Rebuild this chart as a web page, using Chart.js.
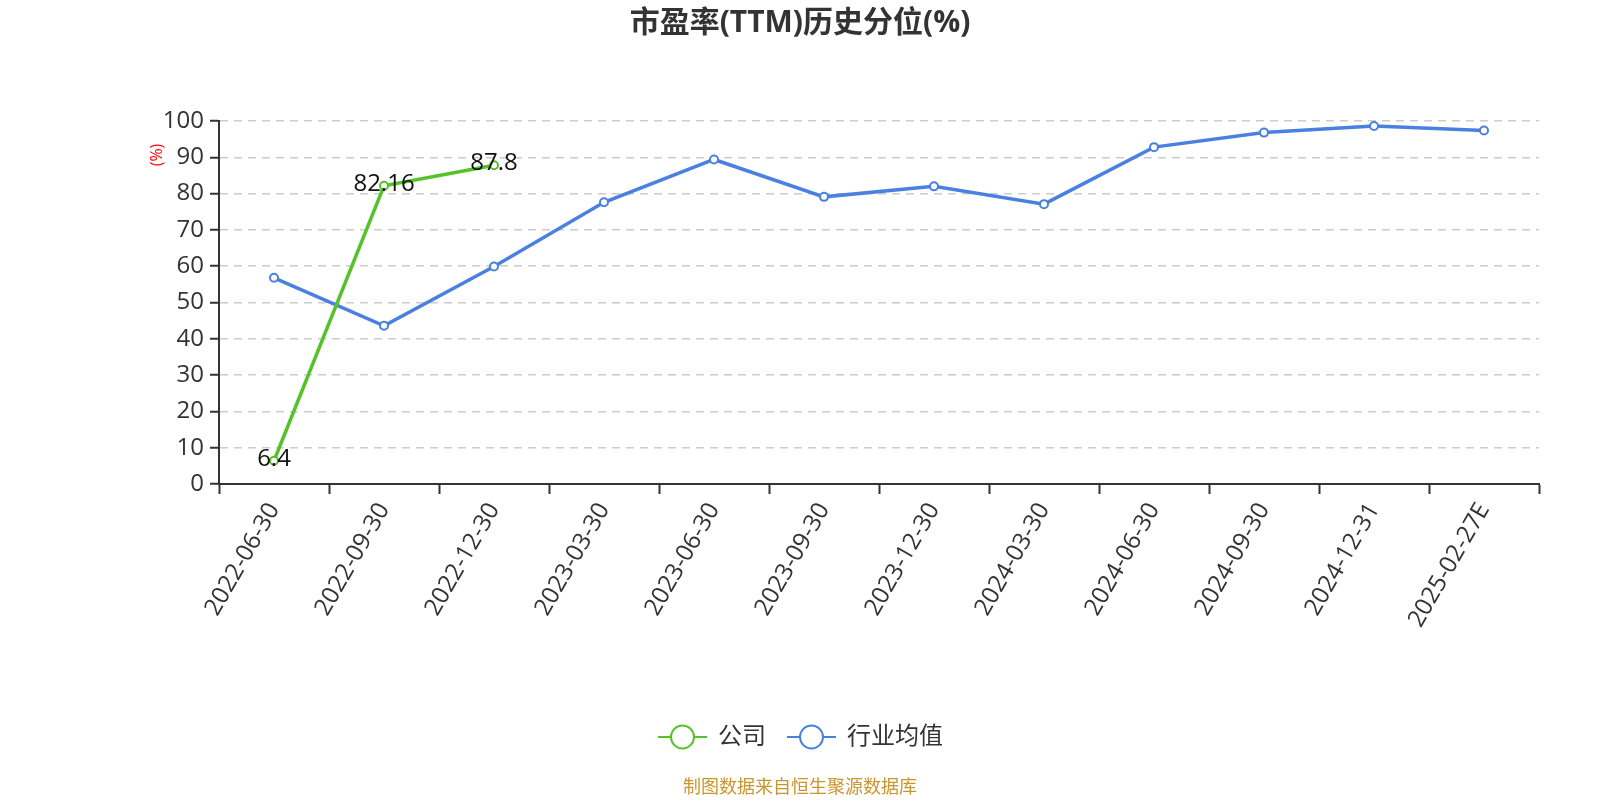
<!DOCTYPE html>
<html>
<head>
<meta charset="utf-8">
<script src="https://cdn.jsdelivr.net/npm/chart.js@4.4.1/dist/chart.umd.min.js"></script>
<style>
  html, body { margin: 0; padding: 0; background: #fff; }
  #wrap { width: 1600px; height: 800px; position: relative; }
</style>
</head>
<body>
<div id="wrap"><canvas id="peChart"></canvas></div>
<script>
// Chart data
const dates = ['2022-06-30', '2022-09-30', '2022-12-30', '2023-03-30', '2023-06-30', '2023-09-30',
  '2023-12-30', '2024-03-30', '2024-06-30', '2024-09-30', '2024-12-31', '2025-02-27E'];
const companyValues = [6.4, 82.16, 87.8, null, null, null, null, null, null, null, null, null];
const industryValues = [56.8, 43.6, 59.9, 77.6, 89.4, 79.1, 82.0, 77.1, 92.8, 96.8, 98.6, 97.4];
const seriesNames = ['公司', '行业均值'];
const yTicks = [0, 10, 20, 30, 40, 50, 60, 70, 80, 90, 100];

const GREEN = '#56c22a';
const BLUE = '#4a80e0';
const FONT = '"Open Sans", "Noto Sans CJK SC", sans-serif';

// title, y-axis unit, value labels, legend and source line
const decorations = {
  id: 'decorations',
  afterDraw(chart) {
    const ctx = chart.ctx;
    ctx.save();

    ctx.fillStyle = '#333';
    ctx.font = 'bold 30px ' + FONT;
    ctx.textAlign = 'center';
    ctx.textBaseline = 'middle';
    ctx.fillText('市盈率(TTM)历史分位(%)', 800, 23);

    // unit label on y axis
    ctx.save();
    ctx.translate(157, 155);
    ctx.rotate(-Math.PI / 2);
    ctx.fillStyle = '#ff0000';
    ctx.font = '16px ' + FONT;
    ctx.fillText('(%)', 0, 0);
    ctx.restore();

    // legend
    const items = [
      { name: seriesNames[0], color: GREEN, x: 658 },
      { name: seriesNames[1], color: BLUE, x: 787 }
    ];
    const ly = 737;
    items.forEach(it => {
      ctx.strokeStyle = it.color;
      ctx.lineWidth = 2;
      ctx.beginPath();
      ctx.moveTo(it.x, ly);
      ctx.lineTo(it.x + 49, ly);
      ctx.stroke();
      ctx.beginPath();
      ctx.arc(it.x + 24.5, ly, 11.5, 0, Math.PI * 2);
      ctx.fillStyle = '#fff';
      ctx.fill();
      ctx.stroke();
      ctx.fillStyle = '#333';
      ctx.font = '24px ' + FONT;
      ctx.textAlign = 'left';
      ctx.fillText(it.name, it.x + 60, ly);
    });

    ctx.fillStyle = '#c9952e';
    ctx.font = '18px ' + FONT;
    ctx.textAlign = 'center';
    ctx.fillText('制图数据来自恒生聚源数据库', 800, 788);
    ctx.restore();
  },
  afterDatasetsDraw(chart) {
    const ctx = chart.ctx;
    const meta = chart.getDatasetMeta(0);
    ctx.save();
    ctx.fillStyle = '#111';
    ctx.font = '24px ' + FONT;
    ctx.textAlign = 'center';
    ctx.textBaseline = 'middle';
    meta.data.forEach((pt, i) => {
      const v = companyValues[i];
      if (v === null) return;
      ctx.fillText(String(v), pt.x, pt.y - 2);
    });
    ctx.restore();
  }
};

const ctx = document.getElementById('peChart').getContext('2d');
new Chart(ctx, {
  type: 'line',
  data: {
    labels: dates,
    datasets: [
      {
        label: seriesNames[0],
        data: companyValues,
        borderColor: GREEN,
        backgroundColor: '#fff',
        borderWidth: 3.5,
        pointRadius: 4,
        pointBorderWidth: 2,
        pointBackgroundColor: '#fff',
        pointBorderColor: GREEN,
        spanGaps: false
      },
      {
        label: seriesNames[1],
        data: industryValues,
        borderColor: BLUE,
        backgroundColor: '#fff',
        borderWidth: 3.5,
        pointRadius: 4,
        pointBorderWidth: 2,
        pointBackgroundColor: '#fff',
        pointBorderColor: BLUE
      }
    ]
  },
  options: {
    responsive: true,
    maintainAspectRatio: false,
    animation: false,
    devicePixelRatio: 1,
    layout: { padding: { top: 121, left: 0, right: 61, bottom: 0 } },
    plugins: {
      legend: { display: false },
      title: { display: false },
      tooltip: { enabled: false }
    },
    scales: {
      x: {
        offset: true,
        afterFit: scale => { scale.height = 316; },
        grid: {
          offset: true,
          drawOnChartArea: false,
          drawTicks: true,
          tickLength: 10,
          tickColor: '#333',
          tickWidth: 2
        },
        border: { display: true, color: '#333', width: 2 },
        ticks: {
          color: '#333',
          font: { size: 24, family: FONT },
          minRotation: 60,
          maxRotation: 60,
          autoSkip: false,
          padding: 4
        }
      },
      y: {
        min: 0,
        max: 100,
        afterFit: scale => { scale.width = 219; },
        afterBuildTicks: scale => { scale.ticks = yTicks.map(v => ({ value: v })); },
        grid: {
          color: '#cccccc',
          lineWidth: 1.5,
          tickColor: '#333',
          tickLength: 9,
          tickWidth: 2
        },
        border: { display: true, color: '#333', width: 2, dash: [8, 6] },
        ticks: {
          color: '#333',
          font: { size: 24, family: FONT },
          padding: 6
        }
      }
    }
  },
  plugins: [decorations]
});
</script>
</body>
</html>
